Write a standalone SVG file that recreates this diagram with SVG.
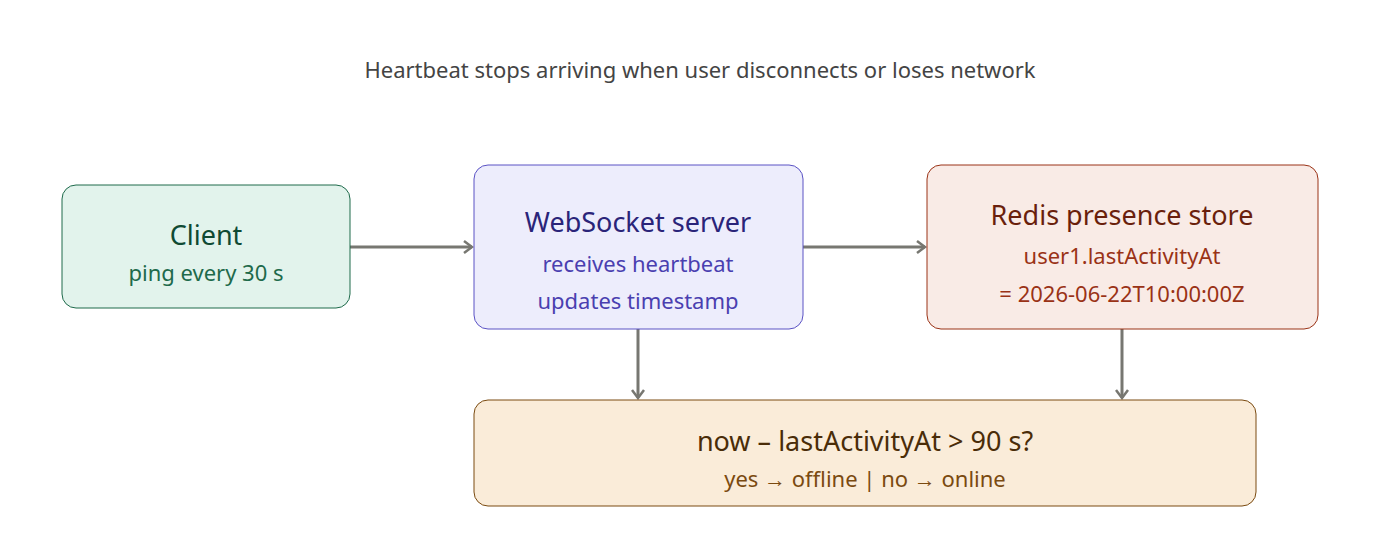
<svg xmlns="http://www.w3.org/2000/svg" width="1400" height="556" viewBox="0 0 1400 556">
<style>
text{font-family:"Noto Sans","Open Sans",sans-serif;text-anchor:middle}
.t{font-size:27px}.s{font-size:22px}
.e{stroke:#777771;stroke-width:3;fill:none;marker-end:url(#a)}
</style>
<defs><marker id="a" markerWidth="12" markerHeight="14" refX="10" refY="7" orient="auto" markerUnits="userSpaceOnUse"><path d="M2,1 L10,7 L2,13" fill="none" stroke="#777771" stroke-width="2.5"/></marker></defs>
<rect width="1400" height="556" fill="#fff"/>
<text x="700" y="78" font-size="22" fill="#444">Heartbeat stops arriving when user disconnects or loses network</text>
<g id="edges">
<path class="e" d="M350,247 H472"/>
<path class="e" d="M803,247 H925"/>
<path class="e" d="M638,329 V398"/>
<path class="e" d="M1122,329 V398"/>
</g>
<g id="client"><rect x="62" y="185" width="288" height="123" rx="14" fill="#e2f3ec" stroke="#1e6a4b"/>
<text class="t" x="206" y="245" fill="#0f4a33">Client</text><text class="s" x="206" y="281" fill="#1e6a4b">ping every 30 s</text></g>
<g id="ws"><rect x="474" y="165" width="329" height="164" rx="14" fill="#ededfc" stroke="#5a52c4"/>
<text class="t" x="638" y="232" fill="#2a2479">WebSocket server</text><text class="s" x="638" y="272" fill="#4a3fb0">receives heartbeat</text><text class="s" x="638" y="309" fill="#4a3fb0">updates timestamp</text></g>
<g id="redis"><rect x="927" y="165" width="391" height="164" rx="14" fill="#f9ebe6" stroke="#9a3216"/>
<text class="t" x="1122" y="225" fill="#6a1f0c">Redis presence store</text><text class="s" x="1122" y="264" fill="#9a3216">user1.lastActivityAt</text><text class="s" x="1122" y="302" fill="#9a3216">= 2026-06-22T10:00:00Z</text></g>
<g id="check"><rect x="474" y="400" width="782" height="106" rx="14" fill="#faecd9" stroke="#7a4a10"/>
<text class="t" x="865" y="451" fill="#4a2c08">now – lastActivityAt &gt; 90 s?</text><text class="s" x="865" y="487" fill="#7a4a10">yes → offline | no → online</text></g>
</svg>
